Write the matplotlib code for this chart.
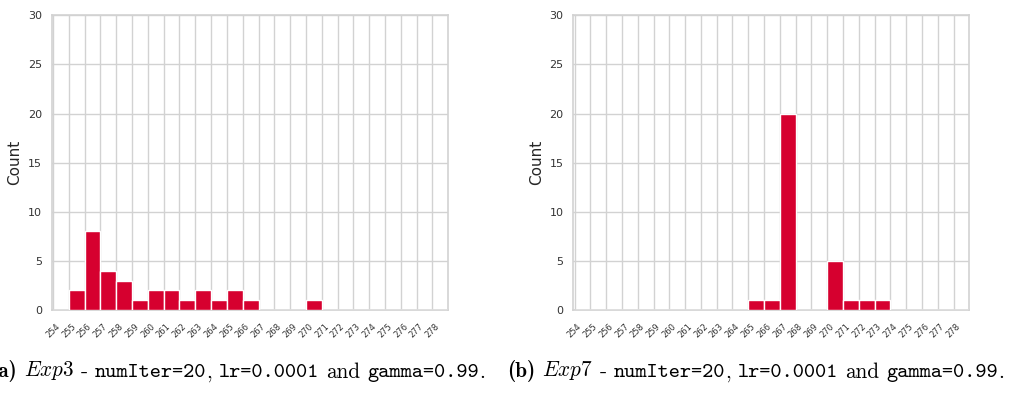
import matplotlib
matplotlib.use("Agg")
import matplotlib.pyplot as plt
from matplotlib.transforms import ScaledTranslation

# bin left edges (integer bins) and counts
bins = list(range(254, 279))
tick_labels = [str(b) for b in range(254, 279)]
counts_exp3 = [0, 2, 8, 4, 3, 1, 2, 2, 1, 2, 1, 2, 1, 0, 0, 0, 1, 0, 0, 0, 0, 0, 0, 0, 0]
counts_exp7 = [0, 0, 0, 0, 0, 0, 0, 0, 0, 0, 0, 1, 1, 20, 0, 0, 5, 1, 1, 1, 0, 0, 0, 0, 0]

captions = [
    ["(a)", r"$\mathit{Exp3}$", "-", "numIter=20", ",", "lr=0.0001", "and", "gamma=0.99", "."],
    ["(b)", r"$\mathit{Exp7}$", "-", "numIter=20", ",", "lr=0.0001", "and", "gamma=0.99", "."],
]

BAR = "#d6002f"
GRID = "#d2d2d2"
TXT = "#333333"

plt.rcParams["mathtext.fontset"] = "cm"


def draw_hist(fig, ax, counts):
    ax.bar(bins, counts, width=1, align="edge", color=BAR,
           edgecolor="white", linewidth=1, zorder=3)
    ax.set_xlim(253.92, 279)
    ax.set_ylim(0, 30)
    ax.set_yticks(range(0, 31, 5))
    ax.set_xticks(bins)
    ax.set_xticklabels(tick_labels, rotation=45, ha="center", fontsize=6, color=TXT)
    # labels sit a little left of their tick in the original
    shift = ScaledTranslation(-2 / 72, 0, fig.dpi_scale_trans)
    for lbl in ax.get_xticklabels():
        lbl.set_transform(lbl.get_transform() + shift)
    ax.tick_params(axis="x", length=0, pad=8.5)
    ax.tick_params(axis="y", length=0, pad=7, labelsize=8, labelcolor=TXT)
    ax.set_ylabel("Count", fontsize=11, color="#262626", labelpad=4)
    ax.grid(True, color=GRID, linewidth=1, zorder=0)
    ax.set_axisbelow(True)
    for s in ax.spines.values():
        s.set_color(GRID)
        s.set_linewidth(1.2)


def draw_caption(ax, x0, pieces, size=15.3, y0=0.04):
    styles = [
        dict(family="cmb10"), dict(), dict(family="cmr10"), dict(family="cmtt10"),
        dict(family="cmr10"), dict(family="cmtt10"), dict(family="cmr10"),
        dict(family="cmtt10"), dict(family="cmr10"),
    ]
    sp = 0.33 * size
    gaps = [0, sp, sp, sp, 0, sp, sp, sp, 0]
    prev = None
    for txt, st, gap in zip(pieces, styles, gaps):
        if prev is None:
            prev = ax.annotate(txt, xy=(x0, y0), xycoords="figure fraction",
                               fontsize=size, ha="left", va="baseline",
                               annotation_clip=False, **st)
        else:
            prev = ax.annotate(txt, xy=(1, 0), xycoords=prev,
                               xytext=(gap, 0), textcoords="offset points",
                               fontsize=size, ha="left", va="bottom",
                               annotation_clip=False, **st)


fig = plt.figure(figsize=(10.21, 3.93), dpi=100)
ax1 = fig.add_axes([51.7 / 1021, 83 / 393, 396.6 / 1021, 294.7 / 393])
ax2 = fig.add_axes([573.3 / 1021, 83 / 393, 396.0 / 1021, 294.7 / 393])

draw_hist(fig, ax1, counts_exp3)
draw_hist(fig, ax2, counts_exp7)

draw_caption(ax1, -10 / 1021, captions[0])
draw_caption(ax2, 507 / 1021, captions[1])

fig.savefig("out.png", dpi=100, facecolor="white")
